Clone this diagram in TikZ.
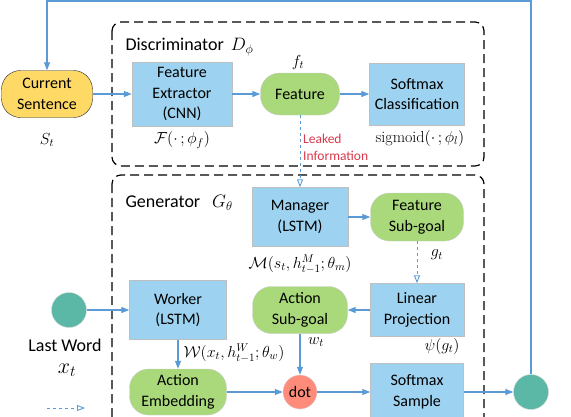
\documentclass[tikz,border=0pt]{standalone}
\usepackage{fix-cm}
\usepackage{fontspec}
\setsansfont{Carlito}
\usetikzlibrary{arrows.meta}
\definecolor{cellblue}{HTML}{9DD3F0}
\definecolor{cellgreen}{HTML}{A9D97A}
\definecolor{sentyellow}{HTML}{FFD966}
\definecolor{wordteal}{HTML}{5BB8A6}
\definecolor{dotred}{HTML}{FF8C7A}
\definecolor{flowblue}{HTML}{5B9BD5}
\definecolor{leakred}{HTML}{D9394B}
\tikzset{
  cell/.style={draw=black!25, fill=cellblue, inner sep=0pt, align=center, font=\sffamily\fontsize{16}{20.5}\selectfont},
  pill/.style={draw=black!20, fill=cellgreen, rounded corners=19pt, inner sep=0pt, align=center, font=\sffamily\fontsize{16}{20.5}\selectfont},
  ball/.style={circle, draw=black!15, inner sep=0pt, minimum size=35pt},
  frame/.style={draw=black, line width=1.2pt, dash pattern=on 9pt off 5pt, rounded corners=9pt},
  arr/.style={draw=flowblue, line width=1.1pt, -{Triangle[length=8pt,width=6pt]}},
  dasharr/.style={draw=flowblue, line width=0.9pt, dash pattern=on 3pt off 3pt, -{Triangle[open,length=8pt,width=6pt]}},
  lbl/.style={inner sep=1pt},
}
\begin{document}
\begin{tikzpicture}[x=1pt, y=-1pt, font=\fontsize{16}{19}\selectfont]
  \useasboundingbox (0,0) rectangle (571,416);
  \clip (0,0) rectangle (571,416);

  % the two dashed frames
  \draw[frame] (112,22) rectangle (484,166);
  \draw[frame] (112,175) rectangle (484,450);
  \node[anchor=west, font=\sffamily\fontsize{18}{21}\selectfont] (dtitle) at (122,47) {Discriminator \,$D_\phi$};
  \node[anchor=west, font=\sffamily\fontsize{18}{21}\selectfont] (gtitle) at (122,203) {Generator\enspace\,$G_\theta$};

  % discriminator
  \node[pill, fill=sentyellow, draw=black!85, minimum width=91pt, minimum height=47pt] (cur) at (47,94) {Current\\Sentence};
  \node[lbl] (St) at (47,140) {$S_t$};
  \node[cell, minimum width=100pt, minimum height=64pt] (fext) at (182,94) {Feature\\Extractor\\(CNN)};
  \node[lbl] (Ff) at (182,140) {$\mathcal{F}(\cdot\,;\phi_f)$};
  \node[pill, minimum width=79pt, minimum height=42pt] (feat) at (300,94) {Feature};
  \node[lbl] (ft) at (298,62) {$f_t$};
  \node[cell, minimum width=95pt, minimum height=62pt] (smc) at (417,94) {Softmax\\Classification};
  \node[lbl] (sig) at (420,138) {$\mathrm{sigmoid}(\cdot\,;\phi_l)$};
  \node[lbl, anchor=west, align=left, text=leakred, font=\sffamily\fontsize{13.5}{17}\selectfont] (leak) at (302,147) {Leaked\\Information};

  % generator
  \node[cell, minimum width=96pt, minimum height=59pt] (mgr) at (300,217) {Manager\\(LSTM)};
  \node[lbl] (Mm) at (300,264) {$\mathcal{M}(s_t,h^M_{t-1};\theta_m)$};
  \node[pill, minimum width=93pt, minimum height=48pt] (fsg) at (417,217) {Feature\\Sub-goal};
  \node[lbl] (gt) at (437,255) {$g_t$};
  \node[cell, minimum width=94pt, minimum height=53pt] (lp) at (417,310) {Linear\\Projection};
  \node[lbl] (psi) at (442,346) {$\psi(g_t)$};
  \node[pill, minimum width=95pt, minimum height=47pt] (asg) at (300,310) {Action\\Sub-goal};
  \node[lbl] (wt) at (316,342) {$w_t$};
  \node[ball, fill=wordteal] (lw) at (69,310) {};
  \node[lbl, font=\sffamily\fontsize{18}{21}\selectfont] (lwtxt) at (65,345) {Last Word};
  \node[lbl, font=\fontsize{22}{26}\selectfont] (xt) at (67,370) {$x_t$};
  \node[cell, minimum width=97pt, minimum height=59pt] (wrk) at (178,310) {Worker\\(LSTM)};
  \node[lbl] (Ww) at (234,353) {$\mathcal{W}(x_t,h^W_{t-1};\theta_w)$};
  \node[pill, minimum width=97pt, minimum height=46pt] (ae) at (178,392) {Action\\Embedding};
  \node[ball, fill=dotred, minimum size=34pt, font=\sffamily\fontsize{16}{19}\selectfont] (dot) at (300,392) {dot};
  \node[cell, minimum width=93pt, minimum height=58pt] (sms) at (417,392) {Softmax\\Sample};
  \node[ball, fill=wordteal] (out) at (531,392) {};
  \coordinate (top) at (300,1);
  \coordinate (lg1) at (47,408);
  \coordinate (lg2) at (85,408);

  \draw[arr] (cur) -- (fext);
  \draw[arr] (fext) -- (feat);
  \draw[arr] (feat) -- (smc);
  \draw[dasharr] (feat) -- (mgr);
  \draw[arr] (mgr) -- (fsg);
  \draw[dasharr] (fsg) -- (lp);
  \draw[arr] (lp) -- (asg);
  \draw[arr] (lw) -- (wrk);
  \draw[arr] (wrk) -- (ae);
  \draw[arr] (asg) -- (dot);
  \draw[arr] (ae) -- (dot);
  \draw[arr] (dot) -- (sms);
  \draw[arr] (sms) -- (out);
  \draw[arr] (out) |- (top) -| (cur);
  \draw[dasharr] (lg1) -- (lg2);
\end{tikzpicture}
\end{document}
